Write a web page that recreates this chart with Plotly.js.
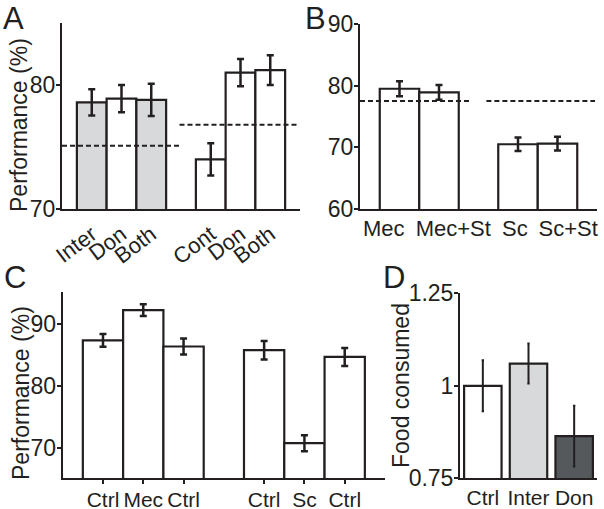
<!DOCTYPE html>
<html>
<head>
<meta charset="utf-8">
<script src="https://cdn.plot.ly/plotly-3.0.1.min.js"></script>
<style>html,body{margin:0;padding:0;background:#fff;}#chart{width:604px;height:509px;}</style>
</head>
<body>
<div id="chart"></div>
<script>
// ---- Data ----
// Panel A
const aLabels = ['Inter', 'Don', 'Both', 'Cont', 'Don', 'Both'];
const aGroupSizes = [3, 3];
const aValues = [78.6, 78.9, 78.8, 74.0, 81.0, 81.2];
const aErrors = [1.05, 1.1, 1.3, 1.3, 1.1, 1.2];
const aChance = [75.1, 76.8];
const aShaded = [true, false, true, false, false, false];
// Panel B
const bLabels = ['Mec', 'Mec+St', 'Sc', 'Sc+St'];
const bGroupSizes = [2, 2];
const bValues = [79.5, 78.9, 70.5, 70.6];
const bErrors = [1.2, 1.2, 1.1, 1.1];
const bChance = [77.5, 77.5];
// Panel C
const cLabels = ['Ctrl', 'Mec', 'Ctrl', 'Ctrl', 'Sc', 'Ctrl'];
const cGroupSizes = [3, 3];
const cValues = [87.4, 92.3, 86.4, 85.8, 70.7, 84.7];
const cErrors = [1.05, 0.95, 1.3, 1.5, 1.3, 1.45];
// Panel D
const dLabels = ['Ctrl', 'Inter', 'Don'];
const dValues = [1.0, 1.06, 0.864];
const dErrors = [0.069, 0.054, 0.082];

// ---- Styles ----
const FONT = 'Liberation Sans, Arial, Helvetica, sans-serif';
const INK = '#231f20';
const LIGHT = '#d8d9da';
const DARK = '#55595b';
const W = 604, H = 509;
// label offsets (in slot units) so the long B labels do not collide, as in the figure
const bLabelShift = [-0.4, 0.36, -0.08, 0.27];

function positions(sizes) {
  const pos = []; let p = 0;
  sizes.forEach((n) => { for (let i = 0; i < n; i++) pos.push(p++); p++; });
  return pos;
}
const aX = positions(aGroupSizes);
const bX = positions(bGroupSizes);
const cX = positions(cGroupSizes);
const dX = dLabels.map((_, i) => i);

function barTrace(x, y, err, colors, xa, ya, width, capw, thick) {
  return {
    type: 'bar', x: x, y: y, xaxis: xa, yaxis: ya, width: width,
    marker: {color: colors, line: {color: INK, width: 2.2}},
    error_y: {type: 'data', array: err, visible: true, color: INK, thickness: thick, width: capw},
    hoverinfo: 'skip', showlegend: false
  };
}

const traces = [
  barTrace(aX, aValues, aErrors, aShaded.map(s => s ? LIGHT : '#ffffff'), 'x', 'y', 1, 3.5, 2.5),
  barTrace(bX, bValues, bErrors, bValues.map(() => '#ffffff'), 'x2', 'y2', 1, 3.5, 2.5),
  barTrace(cX, cValues, cErrors, cValues.map(() => '#ffffff'), 'x3', 'y3', 1, 3.5, 2.5),
  barTrace(dX, dValues, dErrors, ['#ffffff', LIGHT, DARK], 'x4', 'y4', 0.82, 1.2, 2)
];

// dashed chance lines, spanning each group
const aSpans = [[-1, 2.95], [2.95, 6.95]];
const bSpans = [[-1, 1.8], [2.2, 4.95]];
const shapes = [];
aChance.forEach((v, i) => shapes.push({type: 'line', xref: 'x', yref: 'y', x0: aSpans[i][0], x1: aSpans[i][1], y0: v, y1: v, line: {color: INK, width: 2, dash: '5px,3px'}}));
bChance.forEach((v, i) => shapes.push({type: 'line', xref: 'x2', yref: 'y2', x0: bSpans[i][0], x1: bSpans[i][1], y0: v, y1: v, line: {color: INK, width: 2, dash: '5px,3px'}}));

function px2x(px) { return px / W; }
function px2y(py) { return (H - py) / H; }

const tickFont = {family: FONT, size: 22, color: INK};
const yTickFont = {family: FONT, size: 23, color: INK};
function yAxis(domTop, domBot, xanchor, range, vals, texts) {
  return {
    domain: [px2y(domBot), px2y(domTop)], anchor: xanchor, range: range,
    tickvals: vals, ticktext: texts, ticks: 'outside', ticklen: 4, tickwidth: 2, tickcolor: INK,
    showline: true, linecolor: INK, linewidth: 2, showgrid: false, zeroline: false,
    tickfont: yTickFont, ticklabelstandoff: -4, fixedrange: true
  };
}
function xAxis(l, r, yanchor, range, vals, texts, opts) {
  return Object.assign({
    domain: [px2x(l), px2x(r)], anchor: yanchor, range: range,
    tickvals: vals, ticktext: texts, ticks: '', tickangle: 0, showline: true, linecolor: INK, linewidth: 2,
    showgrid: false, zeroline: false, tickfont: tickFont, fixedrange: true
  }, opts || {});
}

const layout = {
  width: W, height: H, margin: {l: 0, r: 0, t: 0, b: 0},
  paper_bgcolor: '#ffffff', plot_bgcolor: 'rgba(0,0,0,0)',
  font: {family: FONT, color: INK},
  showlegend: false, barmode: 'overlay',
  xaxis: xAxis(62, 300, 'y', [-1, 7], aX, aLabels, {tickangle: -37, ticklabelstandoff: 2}),
  yaxis: yAxis(23, 209, 'x', [70, 85], [70, 80], ['70', '80']),
  xaxis2: xAxis(360, 597, 'y2', [-1, 5], bX.map((x, i) => x + bLabelShift[i]), bLabels, {ticklabelstandoff: -1}),
  yaxis2: yAxis(24, 209, 'x2', [60, 90], [60, 70, 80, 90], ['60', '70', '80', '90']),
  xaxis3: xAxis(62.7, 385, 'y3', [-1, 7], cX, cLabels, {ticks: 'outside', ticklen: 4, tickwidth: 2, tickcolor: INK, ticklabelstandoff: -3, tickfont: {family: FONT, size: 21, color: INK}}),
  yaxis3: yAxis(292, 478.3, 'x3', [65, 95.25], [70, 80, 90], ['70', '80', '90']),
  xaxis4: xAxis(460, 597, 'y4', [-0.5, 2.5], dX, dLabels, {ticklabelstandoff: -1, tickfont: {family: FONT, size: 21, color: INK}}),
  yaxis4: yAxis(293.3, 478.3, 'x4', [0.75, 1.25], [0.75, 1, 1.25], ['0.75', '1', '1.25']),
  shapes: shapes,
  annotations: [
    {text: 'A', x: px2x(13), y: px2y(19)},
    {text: 'B', x: px2x(315), y: px2y(18)},
    {text: 'C', x: px2x(15), y: px2y(277)},
    {text: 'D', x: px2x(394), y: px2y(277)}
  ].map(a => Object.assign(a, {xref: 'paper', yref: 'paper', showarrow: false, xanchor: 'center', yanchor: 'middle', font: {family: FONT, size: 31, color: INK}})).concat([
    {text: 'Performance (%)', x: px2x(19), y: px2y(125)},
    {text: 'Performance (%)', x: px2x(21), y: px2y(393)},
    {text: 'Food consumed', x: px2x(401), y: px2y(386)}
  ].map(a => Object.assign(a, {xref: 'paper', yref: 'paper', showarrow: false, textangle: -90, xanchor: 'center', yanchor: 'middle', font: {family: FONT, size: 23, color: INK}})))
};

Plotly.newPlot('chart', traces, layout, {staticPlot: true, displayModeBar: false});
</script>
</body>
</html>
